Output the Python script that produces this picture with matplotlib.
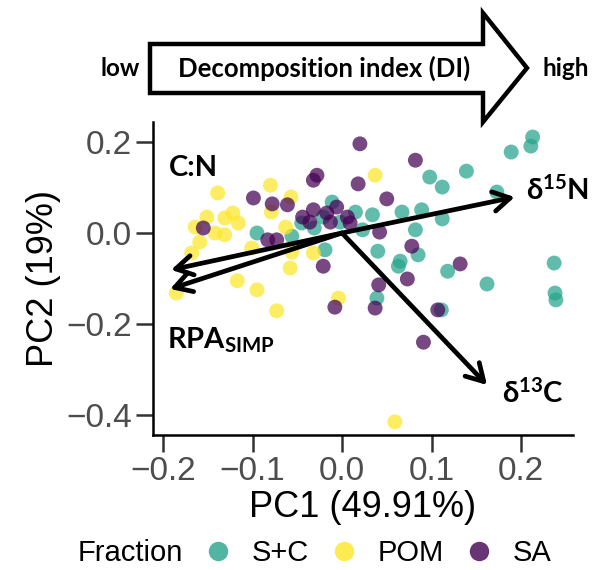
import matplotlib
matplotlib.use("Agg")
import matplotlib.pyplot as plt
from matplotlib.patches import Polygon
from matplotlib.lines import Line2D

# ---------------- data ----------------
sc_x = [0.213, 0.211, 0.189, 0.139, 0.098, 0.112, 0.173, 0.015, 0.034, 0.067,
        0.089, 0.112, 0.023, 0.082, 0.040, 0.085, 0.065, 0.063, 0.118, 0.162,
        0.237, 0.238, 0.239, 0.039, 0.111, -0.011, -0.021, -0.045, -0.056, -0.095,
        -0.019, -0.002, -0.031]
sc_y = [0.211, 0.191, 0.178, 0.136, 0.123, 0.101, 0.090, 0.046, 0.040, 0.046,
        0.051, 0.031, 0.007, 0.007, -0.040, -0.048, -0.062, -0.073, -0.084, -0.112,
        -0.066, -0.132, -0.147, -0.143, -0.169, 0.068, 0.035, 0.022, -0.007, 0.000,
        -0.037, 0.024, 0.011]

pom_x = [-0.139, -0.080, -0.057, -0.079, -0.151, -0.131, -0.122, -0.116, -0.164, -0.142,
         -0.131, -0.159, -0.168, -0.101, -0.063, -0.056, -0.032, -0.058, -0.117, -0.095,
         -0.073, -0.185, -0.004, 0.037, 0.059]
pom_y = [0.088, 0.105, 0.079, 0.046, 0.035, 0.033, 0.044, 0.022, 0.013, 0.000,
         -0.004, -0.020, -0.044, -0.033, 0.013, -0.042, -0.044, -0.077, -0.105, -0.125,
         -0.171, -0.132, -0.143, 0.127, -0.415]

sa_x = [0.020, 0.082, -0.028, -0.032, 0.018, 0.050, -0.099, -0.078, -0.061, -0.155,
        -0.083, -0.073, -0.044, -0.032, -0.036, -0.013, -0.006, 0.006, 0.009, -0.021,
        -0.008, 0.042, 0.078, 0.132, 0.073, 0.041, 0.037, 0.107, 0.091, -0.017]
sa_y = [0.196, 0.160, 0.127, 0.116, 0.108, 0.075, 0.077, 0.064, 0.062, 0.011,
        -0.015, -0.015, 0.035, 0.051, 0.024, 0.024, 0.057, 0.035, 0.022, -0.073,
        -0.163, 0.002, -0.029, -0.068, -0.101, -0.114, -0.165, -0.169, -0.240, 0.044]

load_names = ["C:N", "RPA_SIMP", "d15N", "d13C"]
load_x = [-0.191, -0.192, 0.193, 0.162]
load_y = [-0.081, -0.123, 0.079, -0.334]
label_text = [r"C:N", r"RPA$_{\mathbf{SIMP}}$", r"δ$^{\mathbf{15}}$N", r"δ$^{\mathbf{13}}$C"]
label_x = [-0.194, -0.196, 0.206, 0.179]
label_y = [0.143, -0.235, 0.094, -0.352]

fractions = ["S+C", "POM", "SA"]
colors = ["#26A38B", "#FDE725", "#440154"]

x_ticks = [-0.2, -0.1, 0.0, 0.1, 0.2]
y_ticks = [0.2, 0.0, -0.2, -0.4]

# ---------------- style ----------------
plt.rcParams["font.family"] = ["Liberation Sans", "DejaVu Sans"]
plt.rcParams["mathtext.fontset"] = "custom"
plt.rcParams["mathtext.rm"] = "Lato:bold"
plt.rcParams["mathtext.bf"] = "Lato:bold"
plt.rcParams["mathtext.it"] = "Lato:bold"

W, H = 595, 570
fig = plt.figure(figsize=(W / 100, H / 100), dpi=100)
ax = fig.add_axes([153 / W, 1 - 435 / H, (573 - 153) / W, (435 - 122) / H])

alpha = 0.72
for xs, ys, c in [(sc_x, sc_y, colors[0]), (pom_x, pom_y, colors[1]), (sa_x, sa_y, colors[2])]:
    ax.scatter(xs, ys, s=115, color=c, alpha=alpha, edgecolors="none", zorder=2)

for lx, ly in zip(load_x, load_y):
    ax.annotate("", xy=(lx, ly), xytext=(0, 0),
                arrowprops=dict(arrowstyle="->,head_length=0.55,head_width=0.32",
                                lw=3.4, color="black", shrinkA=0, shrinkB=0,
                                mutation_scale=22),
                annotation_clip=False, zorder=3)

for t, tx, ty in zip(label_text, label_x, label_y):
    ax.text(tx, ty, t, fontsize=21, fontweight="bold", family=["Lato", "DejaVu Sans"],
            ha="left", va="center", clip_on=False, zorder=4)

ax.set_xlim(-0.2112, 0.2581)
ax.set_ylim(-0.444, 0.244)
ax.set_xticks(x_ticks)
ax.set_yticks(y_ticks)
ax.set_xticklabels([f"{v:.1f}".replace("-", "\u2212") for v in x_ticks])
ax.set_yticklabels([f"{v:.1f}".replace("-", "\u2212") for v in y_ticks])
for s in ["top", "right"]:
    ax.spines[s].set_visible(False)
for s in ["left", "bottom"]:
    ax.spines[s].set_linewidth(1.8)
ax.tick_params(length=12, width=1.8, labelsize=24, labelcolor="#4D4D4D",
               color="#333333", pad=3)
ax.set_xlabel("PC1 (49.91%)", fontsize=26, labelpad=2)
ax.set_ylabel("PC2 (19%)", fontsize=26, labelpad=4)

# ---------------- top decomposition arrow ----------------
def fx(px):
    return px / W

def fy(py):
    return 1 - py / H

arrow_pts = [(150, 44), (483, 44), (483, 13), (527, 68), (483, 122), (483, 93), (150, 93)]
fig.add_artist(Polygon([(fx(a), fy(b)) for a, b in arrow_pts], closed=True,
                       transform=fig.transFigure, facecolor="white",
                       edgecolor="black", lw=3.2))
fig.text(fx(324), fy(68), "Decomposition index (DI)", fontsize=18.5, fontweight="bold",
         family="Lato", ha="center", va="center")
fig.text(fx(100), fy(68), "low", fontsize=17.5, fontweight="bold", family="Lato",
         ha="left", va="center")
fig.text(fx(543), fy(68), "high", fontsize=17.5, fontweight="bold", family="Lato",
         ha="left", va="center")

# ---------------- legend ----------------
fig.text(fx(78), fy(553), "Fraction", fontsize=21, ha="left", va="center")
handles = [Line2D([], [], marker="o", linestyle="none", markersize=14,
                  markerfacecolor=c, markeredgecolor="none", alpha=0.8) for c in colors]
fig.legend(handles, fractions, loc="center left", bbox_to_anchor=(fx(203), fy(553)),
           ncol=3, frameon=False, fontsize=21, handlelength=1.0, handletextpad=0.66,
           columnspacing=0.7, borderpad=0, borderaxespad=0)

fig.savefig("out.png", dpi=100)
